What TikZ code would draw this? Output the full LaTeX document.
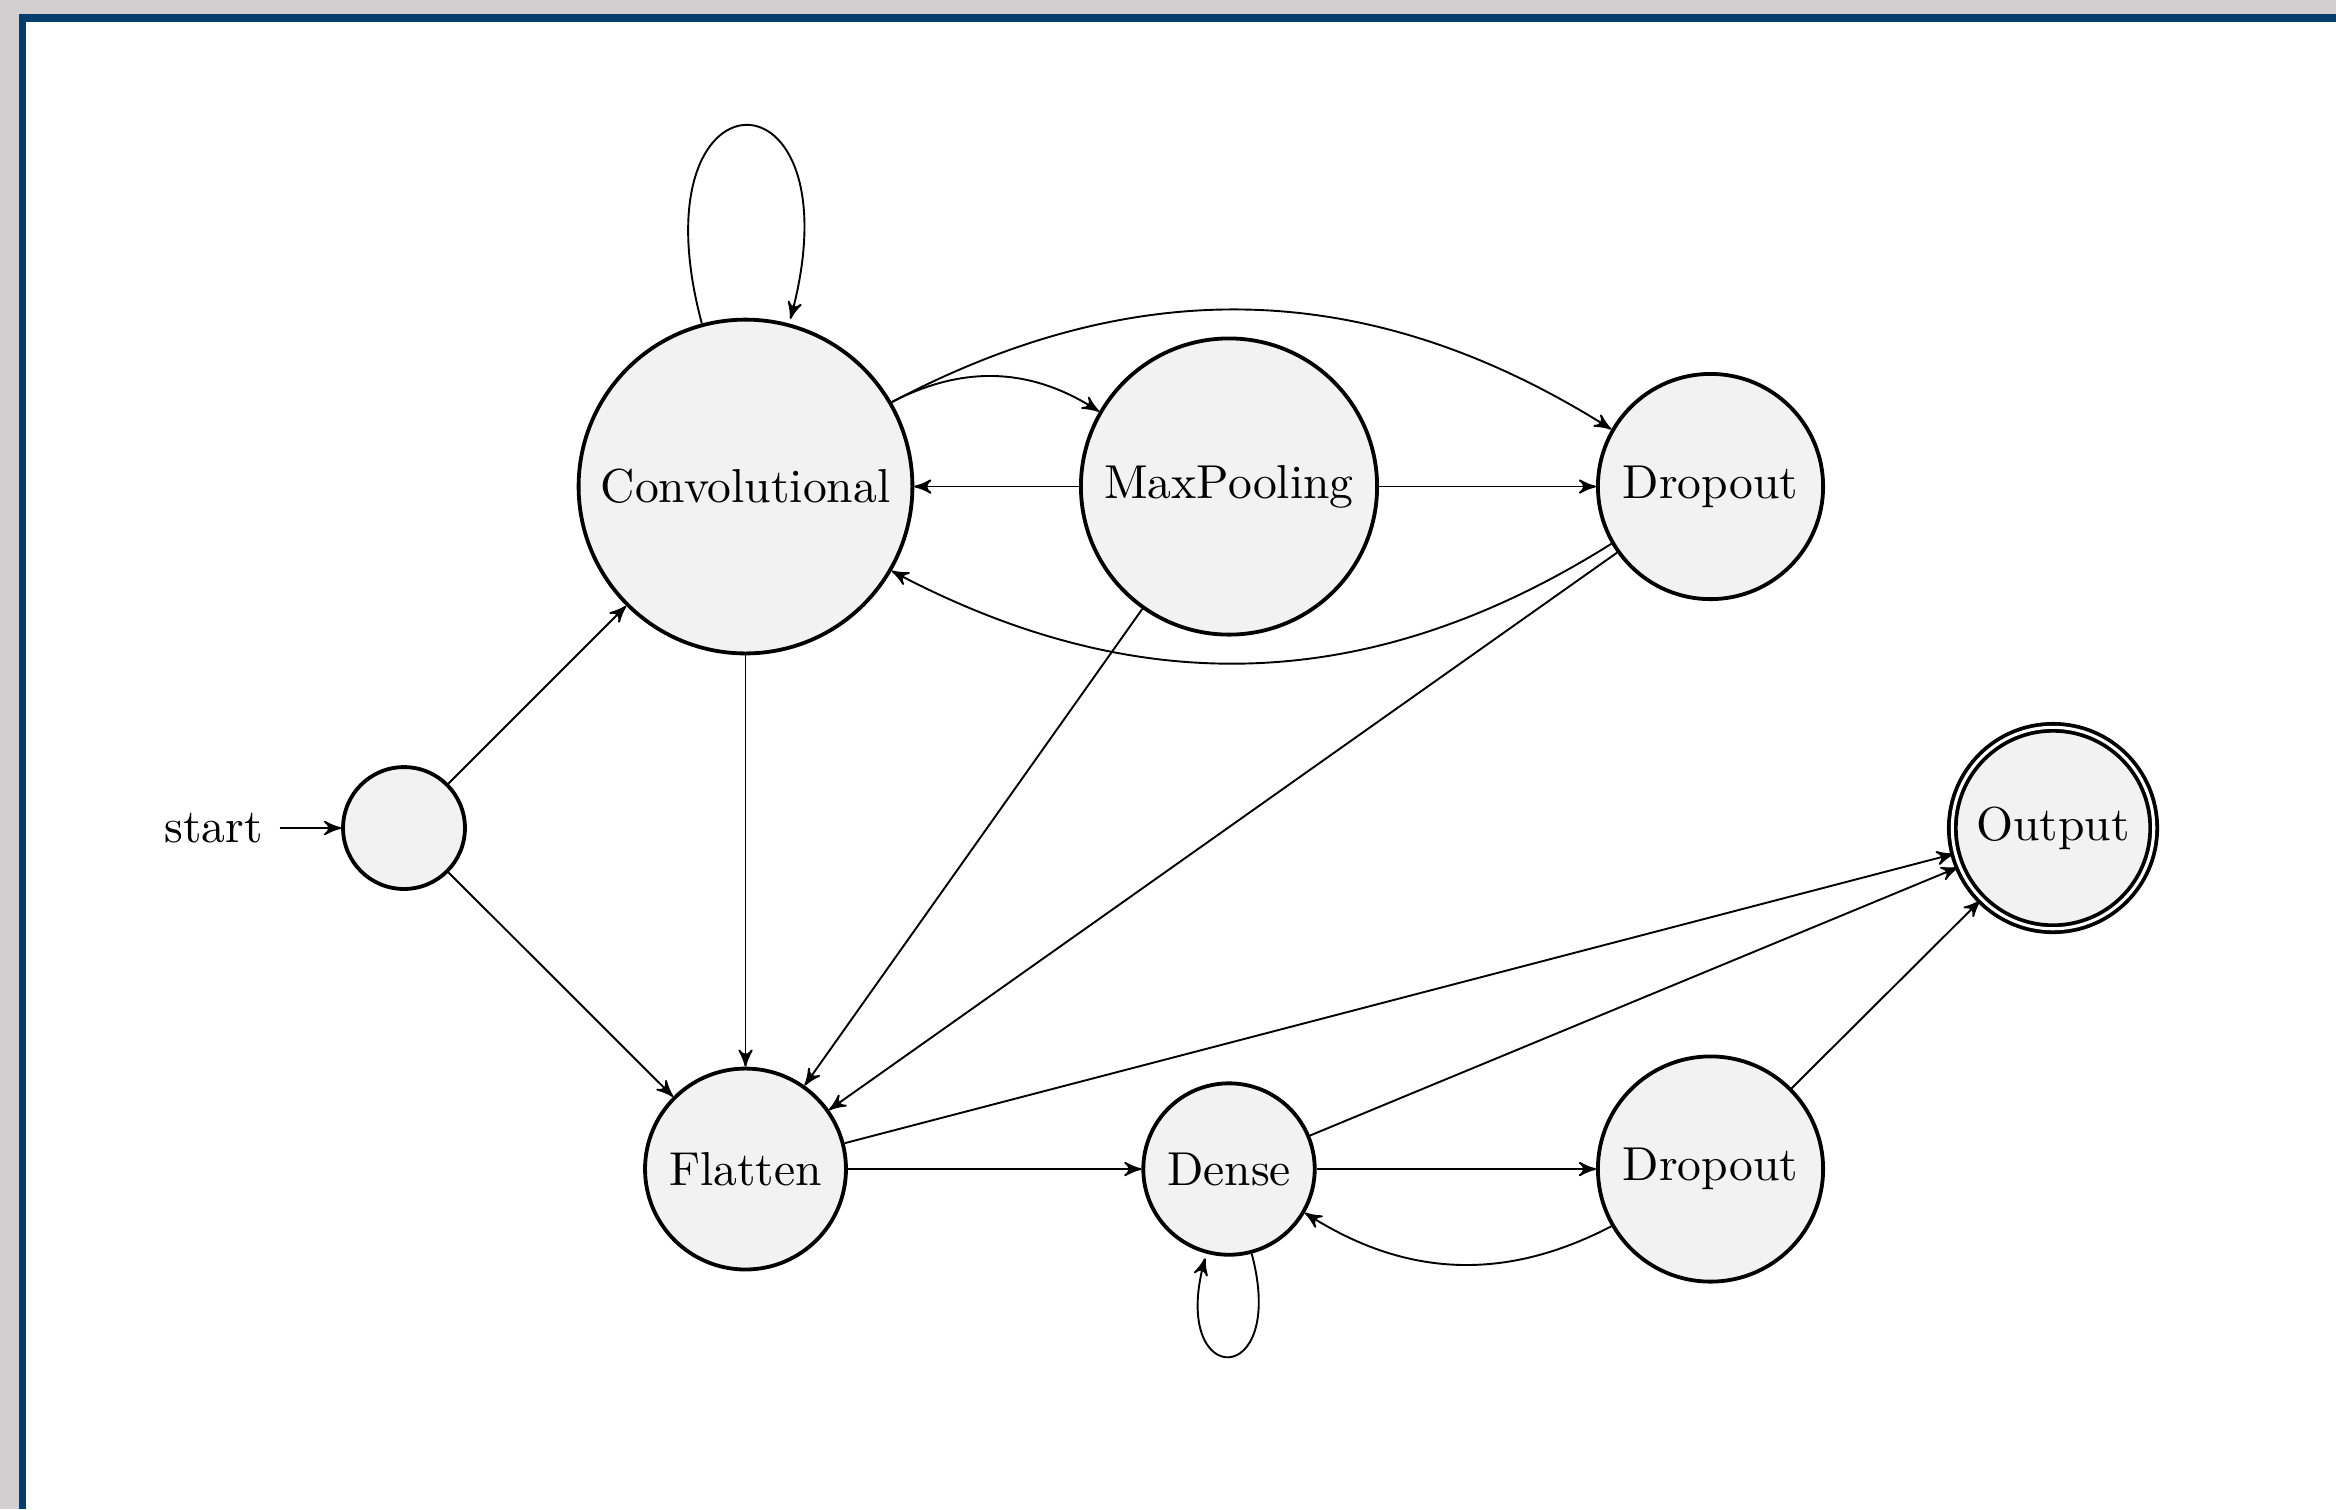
\documentclass[tikz,border=0pt]{standalone}
\usetikzlibrary{automata,arrows}
\definecolor{framegray}{RGB}{209,207,208}
\definecolor{frameblue}{RGB}{2,61,110}
\definecolor{statefill}{RGB}{242,242,242}
\begin{document}
\begin{tikzpicture}[x=0.21pt,y=0.21pt,>=stealth',
  every state/.style={draw=black,thick,fill=statefill,inner sep=0pt},
  initial text=start,
  finalstate/.style={double,double distance=0.65pt},
  conn/.style={->,line width=0.4pt}]
\useasboundingbox (0,0) rectangle (2336,-1509);
\fill[framegray] (0,0) rectangle (2336,-1509);
\fill[frameblue] (18.5,-14) rectangle (2336,-1509);
\fill[white] (25.7,-22) rectangle (2336,-1509);

\node[state,initial,minimum size=25.6pt] (init) at (404,-828) {};
\node[state,minimum size=70.1pt] (conv) at (745.5,-486.5) {Convolutional};
\node[state,minimum size=62.2pt] (maxp) at (1229,-486.5) {MaxPooling};
\node[state,minimum size=47.3pt] (dropa) at (1710.5,-486.5) {Dropout};
\node[state,finalstate,minimum size=42.3pt] (outp) at (2053,-828) {Output};
\node[state,minimum size=42.2pt] (flat) at (745.5,-1169) {Flatten};
\node[state,minimum size=36pt] (dense) at (1229,-1169) {Dense};
\node[state,minimum size=47.3pt] (dropb) at (1710.5,-1169) {Dropout};

\path[conn]
  (init) edge (conv)
  (init) edge (flat)
  (conv) edge[loop above] (conv)
  (conv) edge[bend left] (maxp)
  (conv) edge[bend left] (dropa)
  (conv) edge (flat)
  (maxp) edge (conv)
  (maxp) edge (dropa)
  (maxp) edge (flat)
  (dropa) edge[bend left] (conv)
  (dropa) edge (flat)
  (flat) edge (outp)
  (flat) edge (dense)
  (dense) edge (outp)
  (dense) edge (dropb)
  (dense) edge[out=-75,in=-105,loop] (dense)
  (dropb) edge[bend left] (dense)
  (dropb) edge (outp);
\end{tikzpicture}
\end{document}
